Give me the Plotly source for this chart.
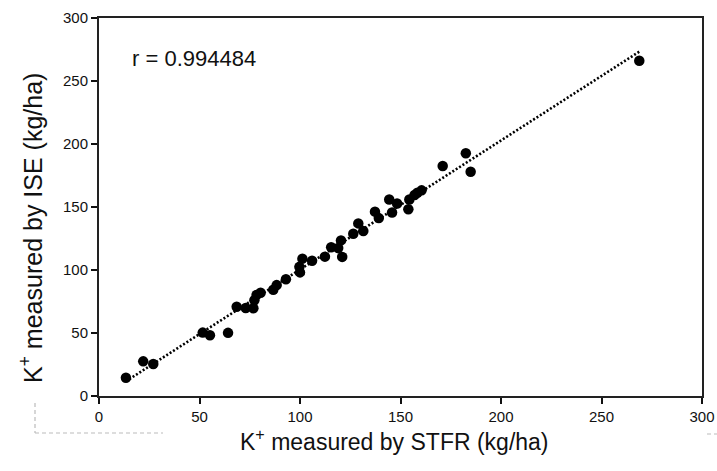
import numpy as np
import plotly.graph_objects as go

# K+ measured by STFR (kg/ha)
stfr = [13.4, 22.0, 27.0, 51.6, 55.2, 64.2, 68.5, 73.0, 76.8, 77.3, 78.4, 80.4,
        86.7, 88.4, 93.0, 100.0, 99.7, 101.2, 106.0, 112.4, 115.5, 119.0, 120.4,
        121.0, 126.5, 129.0, 131.5, 137.3, 139.2, 144.4, 145.8, 148.3, 153.9,
        154.4, 157.0, 158.4, 160.5, 171.0, 182.5, 184.9, 268.8]
# K+ measured by ISE (kg/ha)
ise = [14.5, 27.5, 25.4, 50.3, 48.2, 50.1, 70.9, 69.8, 69.6, 76.0, 80.2, 82.0,
       84.3, 88.0, 92.7, 98.1, 102.5, 109.0, 107.4, 110.6, 118.0, 117.5, 123.5,
       110.4, 128.8, 137.0, 131.0, 146.3, 141.2, 156.0, 145.6, 152.8, 148.2,
       156.0, 159.5, 161.3, 163.2, 182.6, 192.6, 178.0, 266.1]
r_label = "r = 0.994484"
ticks = [0, 50, 100, 150, 200, 250, 300]

slope, intercept = np.polyfit(stfr, ise, 1)
x_fit = np.array([min(stfr), max(stfr)])
y_fit = slope * x_fit + intercept

W, H = 717, 471
L, R, T, B = 99, 15, 18, 75
PW = W - L - R
PH = H - T - B


def px(x):
    return (x - L) / PW


def py(y):
    return (H - B - y) / PH


fig = go.Figure()
fig.add_trace(go.Scatter(x=x_fit, y=y_fit, mode="lines",
                         line=dict(color="black", width=2.6, dash="2px,2px"),
                         hoverinfo="skip", showlegend=False))
fig.add_trace(go.Scatter(x=stfr, y=ise, mode="markers",
                         marker=dict(color="black", size=10.5),
                         showlegend=False))

tickfont = dict(family="Liberation Sans, Arial", size=15, color="#111")
axis_common = dict(range=[0, 300], tickvals=ticks, ticks="outside", ticklen=6,
                   tickwidth=1.5, tickcolor="#111", showline=True, linewidth=2,
                   linecolor="#222", mirror=True, showgrid=False, zeroline=False,
                   tickfont=tickfont, fixedrange=True, automargin=False)
fig.update_xaxes(**axis_common)
fig.update_yaxes(**axis_common)

fig.update_layout(
    width=W, height=H, autosize=False,
    margin=dict(l=L, r=R, t=T, b=B, autoexpand=False),
    paper_bgcolor="white", plot_bgcolor="white",
    showlegend=False,
    annotations=[
        dict(text=r_label, xref="paper", yref="paper", x=px(130), y=py(58),
             xanchor="left", yanchor="middle", showarrow=False,
             font=dict(family="Liberation Sans, Arial", size=22, color="#111")),
        dict(text="K<sup>+</sup> measured by STFR (kg/ha)", xref="paper", yref="paper",
             x=px(394), y=py(440), xanchor="center", yanchor="middle", showarrow=False,
             font=dict(family="Liberation Sans, Arial", size=23, color="#111")),
        dict(text="K<sup>+</sup> measured by ISE (kg/ha)", xref="paper", yref="paper",
             x=px(31), y=py(228), textangle=-90, xanchor="center", yanchor="middle",
             showarrow=False,
             font=dict(family="Liberation Sans, Arial", size=25, color="#111")),
    ],
    shapes=[
        dict(type="line", xref="paper", yref="paper",
             x0=px(35), x1=px(35), y0=py(403), y1=py(433),
             line=dict(color="#bbb", width=1.2, dash="4px,3px")),
        dict(type="line", xref="paper", yref="paper",
             x0=px(35), x1=px(163), y0=py(433), y1=py(433),
             line=dict(color="#bbb", width=1.2, dash="4px,3px")),
        dict(type="line", xref="paper", yref="paper",
             x0=px(707), x1=px(717), y0=py(434), y1=py(434),
             line=dict(color="#bbb", width=1.2, dash="4px,3px")),
    ],
)

post = ("document.body.style.margin='0';document.body.style.padding='0';"
        "document.body.style.overflow='hidden';"
        "document.documentElement.style.overflow='hidden';")
fig.write_html("out.html", config={"displayModeBar": False},
               post_script=post)
